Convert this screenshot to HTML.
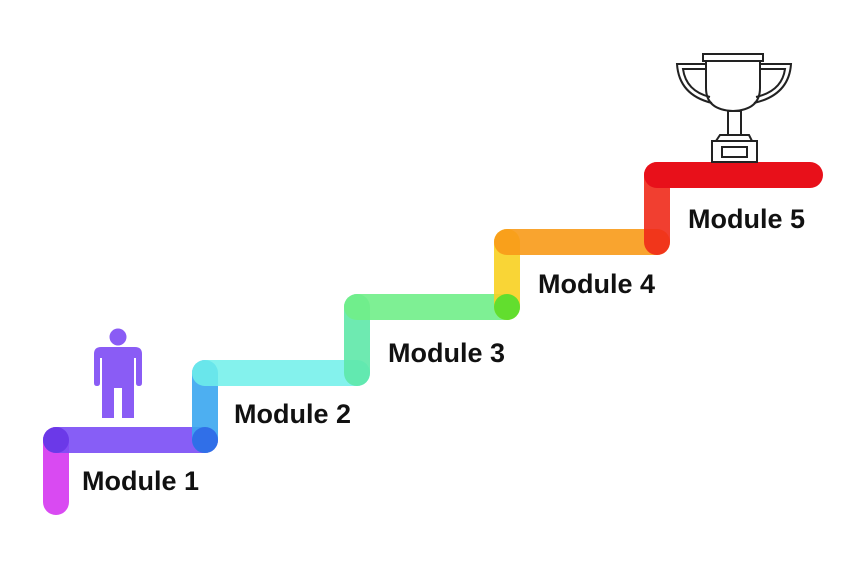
<!DOCTYPE html>
<html><head><style>
html,body{margin:0;padding:0;background:#fff;}
svg{display:block;}
text{font-family:"Liberation Sans",sans-serif;font-weight:bold;font-size:27px;fill:#111;}
</style></head><body>
<svg width="851" height="575" viewBox="0 0 851 575">
<g stroke-width="26" stroke-linecap="round" fill="none">
<line x1="56" y1="440" x2="56" y2="502" stroke="#d94af2"/>
<line x1="56" y1="440" x2="205" y2="440" stroke="#7a4cf5" stroke-opacity="0.9"/>
<line x1="205" y1="440" x2="205" y2="373" stroke="#3aa6f0" stroke-opacity="0.9"/>
<line x1="205" y1="373" x2="357" y2="373" stroke="#6ef0ea" stroke-opacity="0.85"/>
<line x1="357" y1="373" x2="357" y2="307" stroke="#5ee8a8" stroke-opacity="0.9"/>
<line x1="357" y1="307" x2="507" y2="307" stroke="#70ee88" stroke-opacity="0.9"/>
<line x1="507" y1="307" x2="507" y2="242" stroke="#f8d020" stroke-opacity="0.9"/>
<line x1="507" y1="242" x2="657" y2="242" stroke="#f89a18" stroke-opacity="0.9"/>
<line x1="657" y1="242" x2="657" y2="175" stroke="#f02a1a" stroke-opacity="0.9"/>
<line x1="657" y1="175" x2="810" y2="175" stroke="#e8101a"/>
</g>
<circle cx="56" cy="440" r="13" fill="#5a2de0" opacity="0.6"/>
<circle cx="205" cy="440" r="13" fill="#2040e0" opacity="0.5"/>
<circle cx="507" cy="307" r="13" fill="#40e030" opacity="0.8"/>
<text x="82" y="490">Module 1</text>
<text x="234" y="423">Module 2</text>
<text x="388" y="362">Module 3</text>
<text x="538" y="293">Module 4</text>
<text x="688" y="228">Module 5</text>
<g fill="#8a5cf5">
<circle cx="118" cy="337" r="8.5"/>
<path d="M101 347 H135 Q142 347 142 354 V383 Q142 386 139 386 Q136 386 136 383 V358 H134 V418 H122 V388 H114 V418 H102 V358 H100 V383 Q100 386 97 386 Q94 386 94 383 V354 Q94 347 101 347Z"/>
</g>
<g fill="none" stroke="#222" stroke-width="2">
<rect x="703" y="54" width="60" height="7"/>
<path d="M706 61 V88 Q706 110 733 111 Q760 110 760 88 V61"/>
<path d="M706 64 H677 Q679 95 712 103"/>
<path d="M706 69 H683 Q686 91 710 97"/>
<path d="M760 64 H791 Q789 95 754 103"/>
<path d="M760 69 H785 Q782 91 756 97"/>
<rect x="728" y="111" width="13" height="24"/>
<path d="M720 135 H749 L752 141 H716 Z"/>
<rect x="712" y="141" width="45" height="21"/>
<rect x="722" y="147" width="25" height="10"/>
</g>
</svg>
</body></html>
